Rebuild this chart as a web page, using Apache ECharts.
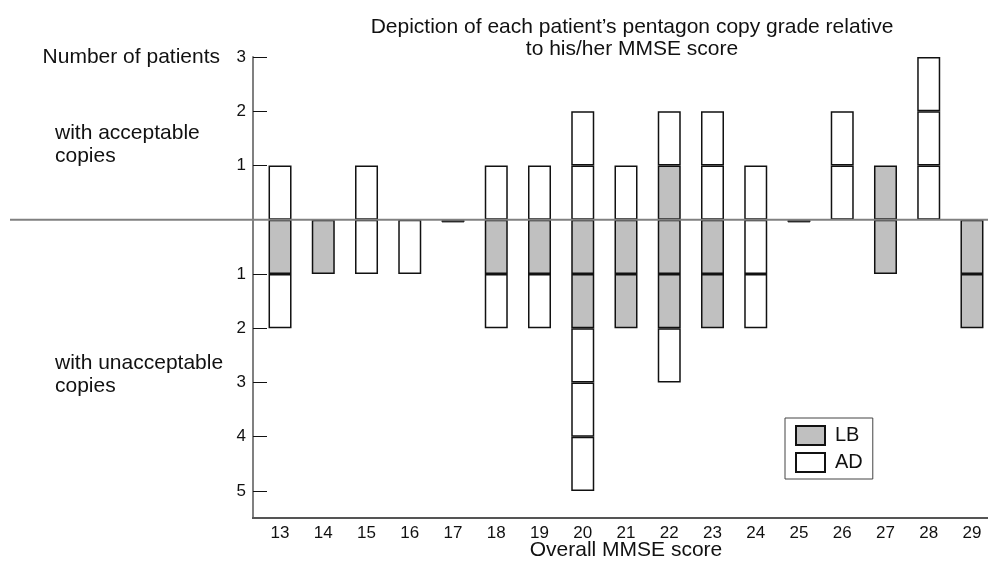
<!DOCTYPE html>
<html>
<head>
<meta charset="utf-8">
<script src="https://cdn.jsdelivr.net/npm/echarts@6/dist/echarts.min.js"></script>
<style>
  html, body { margin: 0; padding: 0; background: #fff; }
  #chart-container { width: 988px; height: 567px; }
</style>
</head>
<body>
<div id="chart-container"></div>
<script>
// MMSE scores on the x axis
var scores = ["13", "14", "15", "16", "17", "18", "19", "20", "21", "22", "23", "24", "25", "26", "27", "28", "29"];
// patients with acceptable copies (drawn above zero)
var lbAcceptable = [0, 0, 0, 0, 0, 0, 0, 0, 0, 1, 0, 0, 0, 0, 1, 0, 0];
var adAcceptable = [1, 0, 1, 0, 0, 1, 1, 2, 1, 1, 2, 1, 0, 2, 0, 3, 0];
// patients with unacceptable copies (drawn below zero)
var lbUnacceptable = [1, 1, 0, 0, 0, 1, 1, 2, 2, 2, 2, 0, 0, 0, 1, 0, 2];
var adUnacceptable = [1, 0, 1, 1, 0, 1, 1, 3, 0, 1, 0, 2, 0, 0, 0, 0, 0];
// y tick labels (shown as absolute counts)
var yTicks = [-5, -4, -3, -2, -1, 1, 2, 3];

var GREY = "#c0c0c0";
var WHITE = "#ffffff";
var FONT = "Liberation Sans, Arial, sans-serif";

var dom = document.getElementById("chart-container");
var myChart = echarts.init(dom, null, { renderer: "canvas" });

var boxStyle = { borderColor: "#111", borderWidth: 1.5 };

// one series per box level, so each patient is its own box
function levelSeries(lb, ad, sign) {
  var total = lb.map(function (v, i) { return v + ad[i]; });
  var maxLevel = Math.max.apply(null, total);
  var out = [];
  for (var lvl = 0; lvl < maxLevel; lvl++) {
    out.push({
      type: "bar",
      stack: "n",
      barWidth: 23,
      silent: true,
      data: total.map(function (t, i) {
        if (lvl >= t) return "-";
        return {
          value: sign,
          itemStyle: Object.assign({ color: lvl < lb[i] ? GREY : WHITE }, boxStyle),
        };
      }),
    });
  }
  return out;
}

var series = []
  .concat(levelSeries(lbAcceptable, adAcceptable, 1))
  .concat(levelSeries(lbUnacceptable, adUnacceptable, -1));

// scores without any patients get a flat dash at zero
series.push({
  type: "bar",
  stack: "n",
  barWidth: 23,
  silent: true,
  itemStyle: { color: "#222", borderColor: "#222", borderWidth: 1 },
  data: scores.map(function (s, i) {
    var n = lbAcceptable[i] + adAcceptable[i] + lbUnacceptable[i] + adUnacceptable[i];
    return n === 0 ? -0.05 : "-";
  }),
});

// legend-only series
series.push({ name: "LB", type: "bar", stack: "n", data: [], itemStyle: Object.assign({ color: GREY }, boxStyle) });
series.push({ name: "AD", type: "bar", stack: "n", data: [], itemStyle: Object.assign({ color: WHITE }, boxStyle) });

var option = {
  animation: false,
  textStyle: { fontFamily: FONT },
  title: [
    {
      text: "Depiction of each patient\u2019s pentagon copy grade relative\nto his/her MMSE score",
      left: 627,
      top: 11,
      textAlign: "center",
      textStyle: { fontFamily: FONT, fontSize: 21, fontWeight: "normal", color: "#111", lineHeight: 22, align: "center" },
    },
    {
      text: "with acceptable\ncopies",
      left: 50,
      top: 117,
      textStyle: { fontFamily: FONT, fontSize: 21, fontWeight: "normal", color: "#111", lineHeight: 23 },
    },
    {
      text: "with unacceptable\ncopies",
      left: 50,
      top: 347,
      textStyle: { fontFamily: FONT, fontSize: 21, fontWeight: "normal", color: "#111", lineHeight: 23 },
    },
  ],
  legend: {
    data: ["LB", "AD"],
    orient: "vertical",
    left: 785,
    top: 418,
    padding: [7, 10, 6, 10],
    borderColor: "#444",
    borderWidth: 1,
    itemWidth: 29,
    itemHeight: 19,
    itemGap: 6,
    icon: "rect",
    selectedMode: false,
    textStyle: { fontFamily: FONT, fontSize: 20, color: "#111", lineHeight: 19, padding: [0, 0, 0, 5] },
  },
  grid: {
    left: 258.4,
    width: 735.2,
    top: 57,
    bottom: 49,
    outerBoundsMode: "none",
  },
  xAxis: {
    type: "category",
    data: scores,
    name: "Overall MMSE score",
    nameLocation: "middle",
    nameGap: 22,
    nameMoveOverlap: false,
    nameTextStyle: { fontFamily: FONT, fontSize: 21, color: "#111" },
    axisLine: { show: false, onZero: false },
    axisTick: { show: false },
    axisLabel: {
      margin: 7,
      fontFamily: FONT,
      fontSize: 17,
      color: "#111",
    },
  },
  yAxis: {
    type: "value",
    min: -5.5,
    max: 3,
    offset: 5.4,
    name: "Number of patients",
    nameLocation: "end",
    nameGap: 0,
    nameTextStyle: {
      fontFamily: FONT,
      fontSize: 21,
      color: "#111",
      align: "right",
      verticalAlign: "middle",
      padding: [0, 33, 0, 0],
    },
    axisLine: { show: true, lineStyle: { color: "#808080", width: 2 } },
    axisTick: {
      show: true,
      inside: true,
      length: 14,
      customValues: yTicks,
      lineStyle: { color: "#111", width: 1 },
    },
    splitLine: { show: false },
    axisLabel: {
      customValues: yTicks,
      margin: 7,
      fontFamily: FONT,
      fontSize: 17,
      color: "#111",
      formatter: function (v) { return String(Math.abs(v)); },
    },
  },
  series: series,
};

myChart.setOption(option);

// zero baseline across the whole figure, and the bottom axis line from the y axis
var y0 = myChart.convertToPixel({ yAxisIndex: 0 }, 0);
var yBottom = myChart.convertToPixel({ yAxisIndex: 0 }, -5.5);
var xLeft = 258.4 - 5.4;
myChart.setOption({
  graphic: [
    {
      type: "line",
      z: 5,
      silent: true,
      shape: { x1: 10, y1: y0, x2: 988, y2: y0 },
      style: { stroke: "#808080", lineWidth: 2 },
    },
    {
      type: "line",
      z: 5,
      silent: true,
      shape: { x1: xLeft - 1, y1: yBottom, x2: 988, y2: yBottom },
      style: { stroke: "#555", lineWidth: 2 },
    },
  ],
});

window.addEventListener("resize", myChart.resize);
</script>
</body>
</html>
